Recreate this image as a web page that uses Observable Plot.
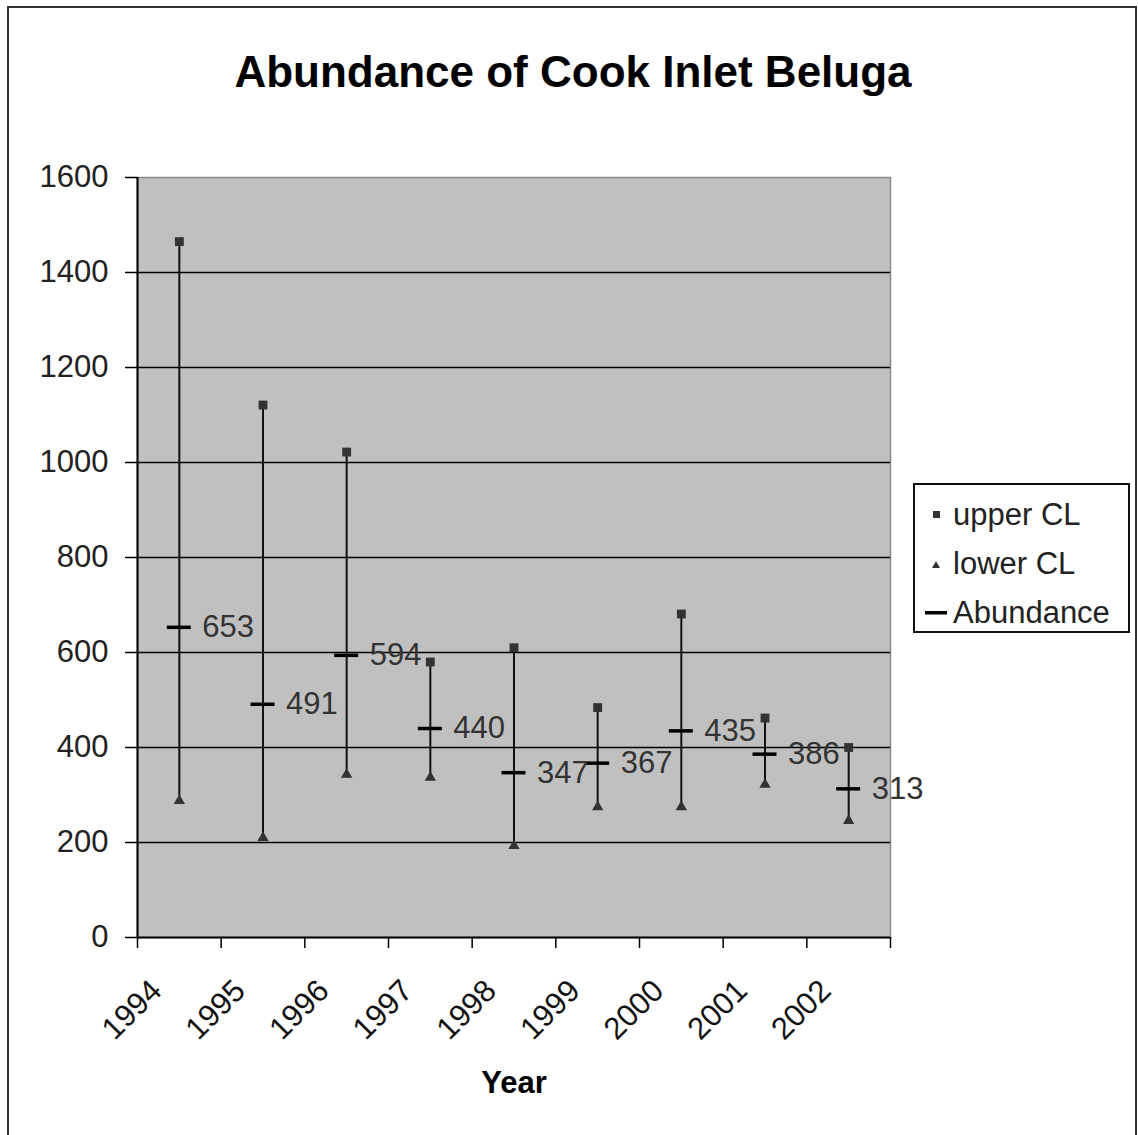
<!DOCTYPE html>
<html>
<head>
<meta charset="utf-8">
<script src="https://cdn.jsdelivr.net/npm/d3@7"></script>
<script src="https://cdn.jsdelivr.net/npm/@observablehq/plot@0.6"></script>
<style>
  html, body { margin: 0; padding: 0; background: #fff; }
  #page { position: relative; width: 1138px; height: 1135px; overflow: hidden; font-family: "Liberation Sans", Arial, sans-serif; }
  #header { position: relative; height: 120px; }
  #title { position: absolute; left: 0; width: 1146px; top: 50px; text-align: center; font-size: 44px; line-height: 44px; font-weight: bold; color: #000; }
  .edge { position: absolute; background: #333; }
  #legend { position: absolute; left: 913px; top: 483px; width: 213px; height: 146px; border: 2px solid #111; background: #fff; }
  .item { position: absolute; left: 0; height: 40px; width: 100%; }
  .item svg { position: absolute; left: 0; top: 0; }
  .item span { position: absolute; left: 38px; top: 2px; font-size: 31px; line-height: 36px; color: #222; white-space: nowrap; }
</style>
</head>
<body>
<div id="page">
  <div id="header"><div id="title"></div></div>
  <div id="chart"></div>
  <div id="legend"></div>
  <div class="edge" style="left:7px;top:6px;width:1.5px;height:1129px"></div>
  <div class="edge" style="left:7px;top:6px;width:1130px;height:1.5px"></div>
  <div class="edge" style="left:1135px;top:6px;width:1.5px;height:1129px"></div>
</div>
<script>
const titleText = "Abundance of Cook Inlet Beluga";
const xLabel = "Year";
const years = [1994, 1995, 1996, 1997, 1998, 1999, 2000, 2001, 2002];
const abundance = [653, 491, 594, 440, 347, 367, 435, 386, 313];
const upperCL = [1465, 1121, 1022, 580, 610, 484, 681, 462, 400];
const lowerCL = [288, 210, 343, 337, 193, 275, 275, 322, 246];
const yTicks = [0, 200, 400, 600, 800, 1000, 1200, 1400, 1600];
const gridValues = [200, 400, 600, 800, 1000, 1200, 1400];
const xBoundaries = [1993.5, 1994.5, 1995.5, 1996.5, 1997.5, 1998.5, 1999.5, 2000.5, 2001.5, 2002.5];
const legendLabels = ["upper CL", "lower CL", "Abundance"];

const data = years.map((year, i) => ({year, abundance: abundance[i], upper: upperCL[i], lower: lowerCL[i]}));

document.getElementById("title").textContent = titleText;

const chart = Plot.plot({
  width: 1138,
  height: 1015,
  marginLeft: 137,
  marginRight: 248,
  marginTop: 57,
  marginBottom: 198,
  style: {fontFamily: "'Liberation Sans', Arial, sans-serif", fontSize: "31px", color: "#222", background: "transparent", overflow: "visible"},
  x: {domain: [xBoundaries[0], xBoundaries[xBoundaries.length - 1]], label: null},
  y: {domain: [yTicks[0], yTicks[yTicks.length - 1]], label: null},
  marks: [
    Plot.frame({fill: "#c0c0c0", stroke: "#8a8a8a", strokeWidth: 1.5}),
    Plot.ruleY(gridValues, {stroke: "#000", strokeWidth: 1.5}),
    Plot.ruleY([yTicks[0]], {stroke: "#000", strokeWidth: 2}),
    Plot.ruleX([xBoundaries[0]], {stroke: "#000", strokeWidth: 2}),
    Plot.axisY(yTicks, {tickSize: 12, tickPadding: 17, fontSize: 31, tickFormat: d => String(d), stroke: "#000", strokeWidth: 1.5}),
    Plot.axisX(xBoundaries, {tickSize: 11, tickFormat: () => "", stroke: "#000", strokeWidth: 1.5}),
    Plot.text(years, {x: d => d, y: () => yTicks[0], text: d => String(d), rotate: -45, textAnchor: "end", lineAnchor: "middle", dx: -23, dy: 48, fontSize: 31, fill: "#111"}),
    Plot.text([xLabel], {frameAnchor: "bottom", text: d => d, dy: 146, lineAnchor: "middle", fontSize: 31, fontWeight: "bold", fill: "#000"}),
    Plot.ruleX(data, {x: "year", y1: "lower", y2: "upper", stroke: "#111", strokeWidth: 2}),
    Plot.dot(data, {x: "year", y: "upper", symbol: "square", r: 5, fill: "#333", stroke: null}),
    Plot.dot(data, {x: "year", y: "lower", symbol: "triangle", r: 4.2, fill: "#333", stroke: null}),
    Plot.ruleY(data, {y: "abundance", x1: "year", x2: "year", insetLeft: -12, insetRight: -12, stroke: "#000", strokeWidth: 3.5}),
    Plot.text(data, {x: "year", y: "abundance", text: d => String(d.abundance), textAnchor: "start", dx: 23, fontSize: 31, fill: "#333"})
  ]
});
document.getElementById("chart").appendChild(chart);

const legend = document.getElementById("legend");
const markers = [
  '<svg width="40" height="40"><rect x="18" y="16" width="7" height="7" fill="#333"/></svg>',
  '<svg width="40" height="40"><path d="M17,24 L25,24 L21,17 Z" fill="#333"/></svg>',
  '<svg width="40" height="40"><rect x="10" y="18" width="22" height="3.5" fill="#000"/></svg>'
];
legendLabels.forEach((label, i) => {
  const row = document.createElement("div");
  row.className = "item";
  row.style.top = (10 + i * 49) + "px";
  row.innerHTML = markers[i];
  const span = document.createElement("span");
  span.textContent = label;
  row.appendChild(span);
  legend.appendChild(row);
});
</script>
</body>
</html>
